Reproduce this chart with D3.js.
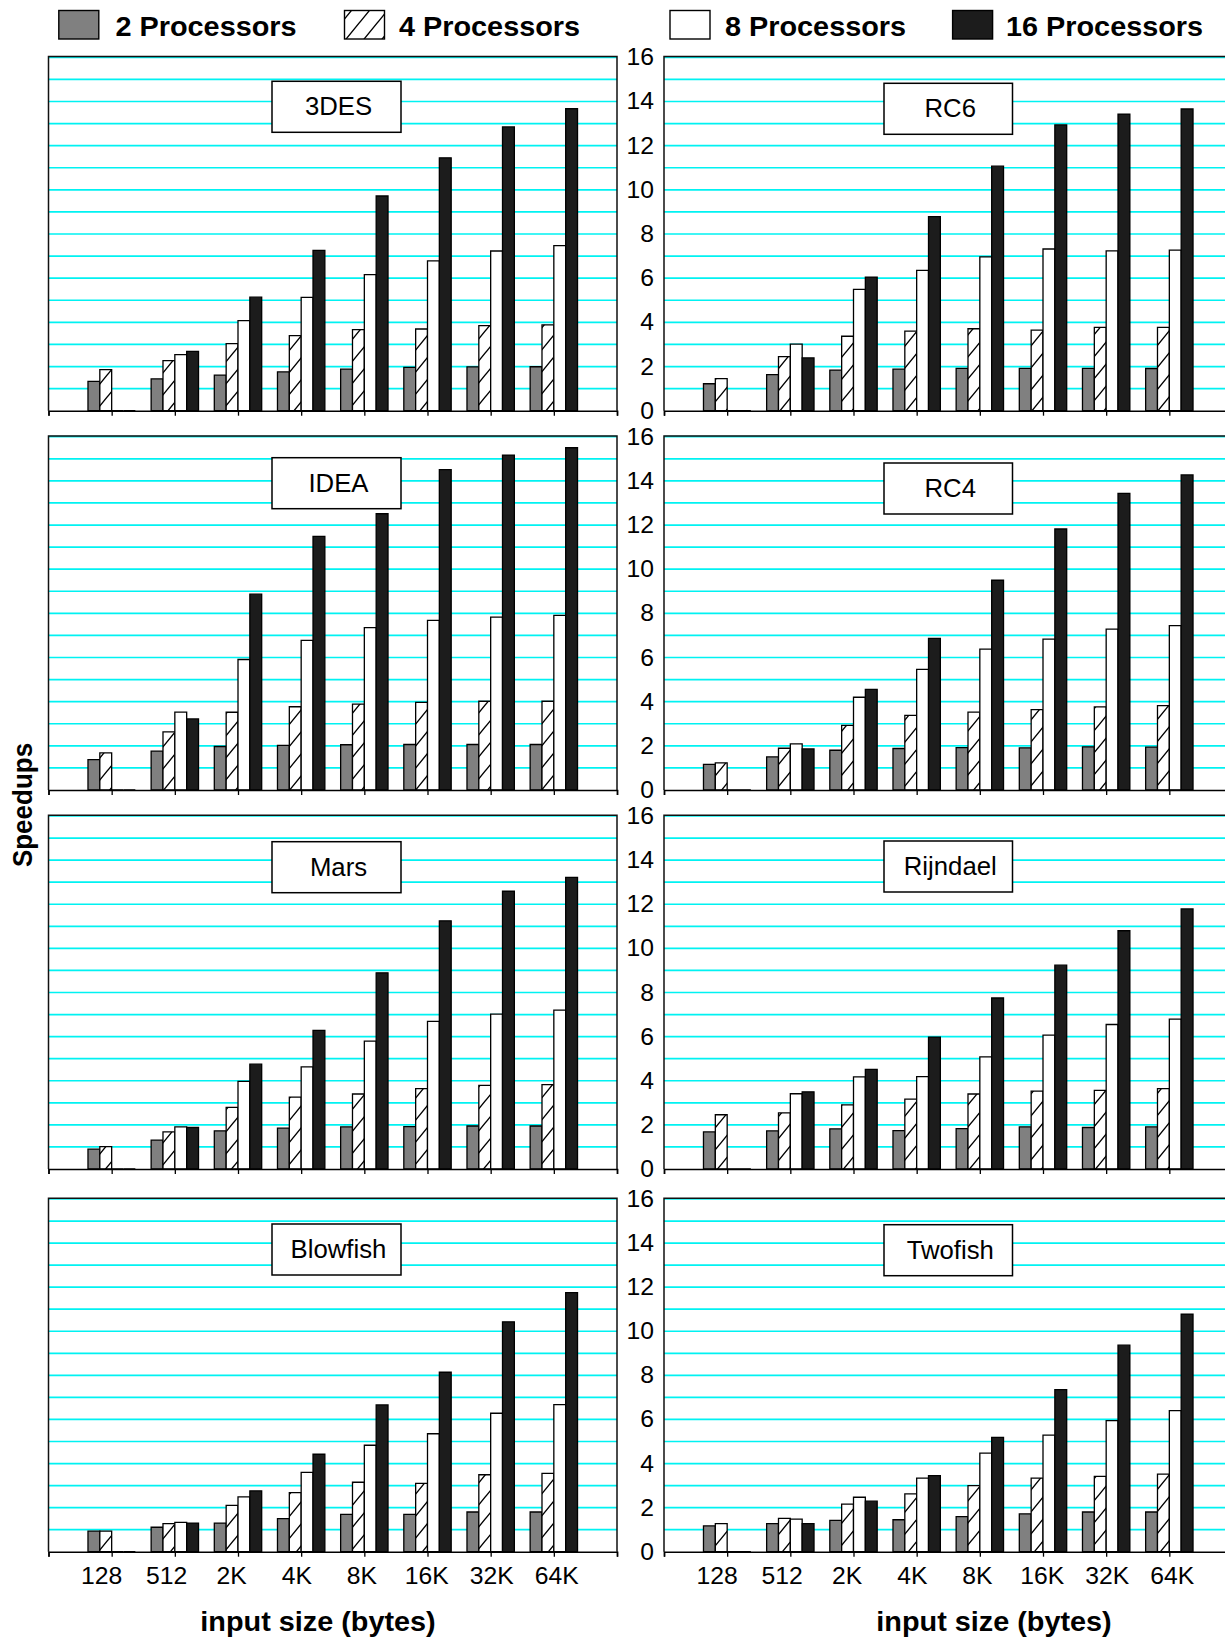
<!DOCTYPE html>
<html>
<head>
<meta charset="utf-8">
<script src="https://cdn.jsdelivr.net/npm/d3@7"></script>
<style>
  html, body { margin: 0; padding: 0; background: #fff; }
  svg { display: block; }
  text { font-family: "Liberation Sans", Arial, sans-serif; fill: #000; }
</style>
</head>
<body>
<svg id="chart" width="1225" height="1642"></svg>
<script>
// ---- data ----------------------------------------------------------------
const categories = ["128", "512", "2K", "4K", "8K", "16K", "32K", "64K"];
const seriesNames = ["2 Processors", "4 Processors", "8 Processors", "16 Processors"];
const yTickValues = [0, 2, 4, 6, 8, 10, 12, 14, 16];
const algorithms = ["3DES", "RC6", "IDEA", "RC4", "Mars", "Rijndael", "Blowfish", "Twofish"];

// speedups per series: 2, 4, 8, 16 processors
const speedup3DES = [
  [1.33, 1.44, 1.61, 1.76, 1.88, 1.96, 1.98, 1.99],
  [1.86, 2.27, 3.04, 3.40, 3.67, 3.70, 3.85, 3.89],
  [0, 2.54, 4.08, 5.13, 6.16, 6.78, 7.23, 7.47],
  [0, 2.69, 5.14, 7.26, 9.72, 11.45, 12.85, 13.67]
];
const speedupRC6 = [
  [1.22, 1.63, 1.84, 1.88, 1.92, 1.92, 1.92, 1.91],
  [1.45, 2.45, 3.37, 3.60, 3.71, 3.65, 3.77, 3.77],
  [0, 3.01, 5.49, 6.35, 6.96, 7.32, 7.24, 7.27],
  [0, 2.39, 6.05, 8.79, 11.07, 12.94, 13.43, 13.66]
];
const speedupIDEA = [
  [1.38, 1.76, 1.97, 2.02, 2.05, 2.06, 2.06, 2.06],
  [1.68, 2.63, 3.52, 3.77, 3.89, 3.97, 4.02, 4.02],
  [0, 3.53, 5.91, 6.78, 7.35, 7.68, 7.83, 7.91],
  [0, 3.22, 8.87, 11.49, 12.51, 14.51, 15.17, 15.50]
];
const speedupRC4 = [
  [1.16, 1.50, 1.80, 1.88, 1.92, 1.91, 1.95, 1.94],
  [1.23, 1.89, 2.93, 3.38, 3.53, 3.64, 3.76, 3.82],
  [0, 2.09, 4.20, 5.46, 6.38, 6.83, 7.29, 7.44],
  [0, 1.86, 4.56, 6.87, 9.50, 11.82, 13.43, 14.27]
];
const speedupMars = [
  [0.90, 1.31, 1.73, 1.85, 1.91, 1.92, 1.95, 1.95],
  [1.01, 1.68, 2.79, 3.26, 3.40, 3.64, 3.79, 3.82],
  [0, 1.91, 3.97, 4.63, 5.80, 6.69, 7.02, 7.20],
  [0, 1.88, 4.75, 6.28, 8.89, 11.25, 12.59, 13.22]
];
const speedupRijndael = [
  [1.68, 1.73, 1.82, 1.74, 1.83, 1.91, 1.88, 1.91],
  [2.46, 2.54, 2.91, 3.17, 3.40, 3.53, 3.56, 3.64],
  [0, 3.41, 4.18, 4.19, 5.08, 6.07, 6.55, 6.79],
  [0, 3.50, 4.52, 5.98, 7.75, 9.24, 10.80, 11.79]
];
const speedupBlowfish = [
  [0.93, 1.11, 1.30, 1.50, 1.69, 1.69, 1.80, 1.80],
  [0.93, 1.27, 2.10, 2.68, 3.15, 3.10, 3.49, 3.55],
  [0, 1.33, 2.49, 3.60, 4.83, 5.35, 6.28, 6.67],
  [0, 1.30, 2.76, 4.42, 6.66, 8.14, 10.43, 11.75]
];
const speedupTwofish = [
  [1.17, 1.27, 1.42, 1.45, 1.59, 1.72, 1.80, 1.80],
  [1.27, 1.51, 2.16, 2.62, 3.00, 3.34, 3.42, 3.52],
  [0, 1.48, 2.47, 3.34, 4.47, 5.29, 5.95, 6.40],
  [0, 1.27, 2.29, 3.45, 5.19, 7.35, 9.37, 10.78]
];
const algorithmData = [speedup3DES, speedupRC6, speedupIDEA, speedupRC4,
                       speedupMars, speedupRijndael, speedupBlowfish, speedupTwofish];

// ---- layout ---------------------------------------------------------------
const SX = 1.03;                        // slight horizontal stretch of lettering
const FONT = "'Liberation Sans', Arial, sans-serif";
const columns = [{ x0: 48.5, x1: 617 }, { x0: 664, x1: 1232.5 }];
const rows = [
  { top: 57.3, bottom: 410.7 },
  { top: 436.7, bottom: 790 },
  { top: 816, bottom: 1169 },
  { top: 1199, bottom: 1551.7 }
];
const titleBoxX = [[272, 401], [884, 1012.5]];
const titleBoxOffset = [24, 26, 21, 26.3, 25.7, 25, 25, 25.7];
const seriesFill = ["#808080", "url(#hatch)", "#ffffff", "#1c1c1c"];
const gridColor = "#00f2f2";

const svg = d3.select("#chart");
svg.append("rect").attr("width", 1225).attr("height", 1642).attr("fill", "#fff");

// diagonal hatching for the 4-processor series
const defs = svg.append("defs");
const pat = defs.append("pattern").attr("id", "hatch")
  .attr("patternUnits", "userSpaceOnUse").attr("width", 18).attr("height", 22);
pat.append("rect").attr("width", 18).attr("height", 22).attr("fill", "#fff");
pat.append("path")
  .attr("d", "M0,22 L18,0 M-4.5,5.5 L4.5,-5.5 M13.5,27.5 L22.5,16.5")
  .attr("stroke", "#000").attr("stroke-width", 1.4).attr("fill", "none");

function stretchedText(sel, x, y, str, size, weight, anchor, extra) {
  return sel.append("text")
    .attr("transform", `translate(${x},${y}) scale(${SX},1)` + (extra || ""))
    .attr("text-anchor", anchor || "start")
    .style("font-family", FONT)
    .style("font-size", size + "px")
    .style("font-weight", weight || "normal")
    .text(str);
}

// ---- legend ---------------------------------------------------------------
const legendSwatchX = [58.8, 344.5, 670, 952.6];
const legendTextX = [115.5, 399, 725, 1006];
const legend = svg.append("g");
seriesNames.forEach((name, i) => {
  legend.append("rect")
    .attr("x", legendSwatchX[i]).attr("y", 10.5)
    .attr("width", 40).attr("height", 28.5)
    .attr("fill", seriesFill[i]).attr("stroke", "#000").attr("stroke-width", 1.4);
  stretchedText(legend, legendTextX[i], 35.5, name, 28, "bold");
});

// ---- panels ---------------------------------------------------------------
algorithms.forEach((alg, p) => {
  const col = p % 2, row = Math.floor(p / 2);
  const { x0, x1 } = columns[col];
  const { top, bottom } = rows[row];
  const data = algorithmData[p];
  const g = svg.append("g");

  const x = d3.scaleLinear().domain([0, categories.length + 1]).range([x0, x1]);
  const y = d3.scaleLinear().domain([0, 16]).range([bottom, top]);
  const step = x(1) - x(0);
  const barW = step * 0.1875;

  // horizontal grid, one line per unit
  g.selectAll("line.grid").data(d3.range(1, 17)).join("line")
    .attr("class", "grid")
    .attr("x1", x0).attr("x2", x1)
    .attr("y1", d => y(d)).attr("y2", d => y(d))
    .attr("stroke", gridColor).attr("stroke-width", 1.7);

  // frame
  if (col === 0) {
    g.append("path")
      .attr("d", `M${x0},${bottom} V${y(16) - 0.8} H${x1} V${bottom}`)
      .attr("fill", "none").attr("stroke", "#111").attr("stroke-width", 1.5);
  } else {
    g.append("path")
      .attr("d", `M${x0},${bottom} V${y(16) - 0.8} H${x1}`)
      .attr("fill", "none").attr("stroke", "#111").attr("stroke-width", 1.5);
  }

  // bars (zero values still show their outline on the axis)
  data.forEach((vals, s) => {
    g.selectAll(null).data(vals).join("path")
      .attr("d", (v, i) => {
        const bx = x(i + 1) + (s - 2) * barW;
        return `M${bx},${y(0)} V${y(v)} H${bx + barW} V${y(0)} Z`;
      })
      .attr("fill", seriesFill[s])
      .attr("stroke", "#000").attr("stroke-width", 1.3)
      .attr("stroke-linejoin", "miter");
  });

  // category axis with tick marks
  const axis = d3.axisBottom(x).tickValues(d3.range(0, categories.length + 2))
    .tickSize(5).tickFormat("");
  const ax = g.append("g").attr("transform", `translate(0,${bottom})`).call(axis);
  ax.select(".domain").attr("stroke", "#000").attr("stroke-width", 1.6);
  ax.selectAll(".tick line").attr("stroke", "#000").attr("stroke-width", 1.3);

  // value labels on the right-hand column
  if (col === 1) {
    yTickValues.forEach(v => {
      stretchedText(g, 654, y(v) + 8, String(v), 24, "normal", "end");
    });
  }

  // category labels on the bottom row
  if (row === rows.length - 1) {
    const lx = d3.scalePoint().domain(categories)
      .range([x(1) - 10, x(categories.length) + 3]);
    categories.forEach(c => {
      stretchedText(g, lx(c), 1584, c, 24, "normal", "middle");
    });
  }

  // algorithm name box
  const [bx0, bx1] = titleBoxX[col];
  const by = top + titleBoxOffset[p];
  g.append("rect").attr("x", bx0).attr("y", by)
    .attr("width", bx1 - bx0).attr("height", 51)
    .attr("fill", "#fff").attr("stroke", "#000").attr("stroke-width", 1.5);
  stretchedText(g, (bx0 + bx1) / 2 + 2, by + 34, alg, 25, "normal", "middle");
});

// ---- axis titles ----------------------------------------------------------
stretchedText(svg, 318, 1631, "input size (bytes)", 28, "bold", "middle");
stretchedText(svg, 994, 1631, "input size (bytes)", 28, "bold", "middle");
stretchedText(svg, 32, 805, "Speedups", 26, "bold", "middle", " rotate(-90)");
</script>
</body>
</html>
